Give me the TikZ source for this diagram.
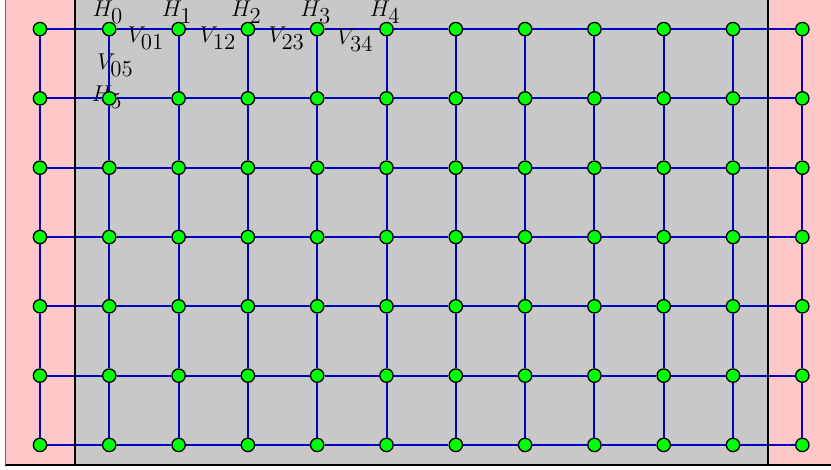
\documentclass[tikz,border=0pt]{standalone}
\usepackage{amsmath}
\usetikzlibrary{arrows.meta,positioning}
\definecolor{EdgePink}{RGB}{255,200,200}
\definecolor{CoreGray}{RGB}{200,200,200}
\definecolor{SiteGreen}{RGB}{0,255,0}
\definecolor{BondBlue}{RGB}{0,0,190}

\begin{document}
\begin{tikzpicture}[x=1.28cm,y=1.28cm,>=Latex,
    site/.style={circle,draw=black,fill=SiteGreen,line width=0.7pt,
      inner sep=0pt,minimum size=7pt},
    bond/.style={BondBlue,line width=1.05pt},
    wall/.style={black,line width=1.1pt},
    tag/.style={font=\fontsize{13}{15}\selectfont}]
      \useasboundingbox (-0.577,-0.36) rectangle (11.414,6.42);
      \clip (-0.577,-0.36) rectangle (11.414,6.42);
      \fill[EdgePink] (-0.5,-0.29) rectangle (11.5,6.8);
      \fill[CoreGray] (0.5,-0.29) rectangle (10.5,6.8);
      \node[tag] (h5) at (0.97,5.02) {$H_{\textstyle 5}$};
      \foreach \i in {0,...,11}
        \foreach \j in {0,...,6}
          \node[site] (s-\i-\j) at (\i,\j) {};
      \foreach \i in {0,...,11}
        \foreach \j [count=\k from 1] in {0,...,5}
          \draw[bond] (s-\i-\j) -- (s-\i-\k);
      \foreach \i [count=\k from 1] in {0,...,10}
        \foreach \j in {0,...,6}
          \draw[bond] (s-\i-\j) -- (s-\k-\j);
      \draw[wall] (0.5,-0.29) -- (0.5,6.8);
      \draw[wall] (10.5,-0.29) -- (10.5,6.8);
      \draw[wall] (-0.5,-0.29) -- (11.5,-0.29);
      \draw[black!60,line width=0.6pt] (-0.5,-0.29) -- (-0.5,6.8);
      \foreach \k [count=\c from 1] in {0,...,4}
        \node[tag] (h\k) at (\c-0.02,6.24) {$H_{\textstyle \k}$};
      \node[tag] (v01) at (1.53,5.87) {$V_{\textstyle 01}$};
      \node[tag] (v12) at (2.57,5.87) {$V_{\textstyle 12}$};
      \node[tag] (v23) at (3.56,5.87) {$V_{\textstyle 23}$};
      \node[tag] (v34) at (4.55,5.84) {$V_{\textstyle 34}$};
      \node[tag] (v05) at (1.09,5.48) {$V_{\textstyle 05}$};
    \end{tikzpicture}
\end{document}
